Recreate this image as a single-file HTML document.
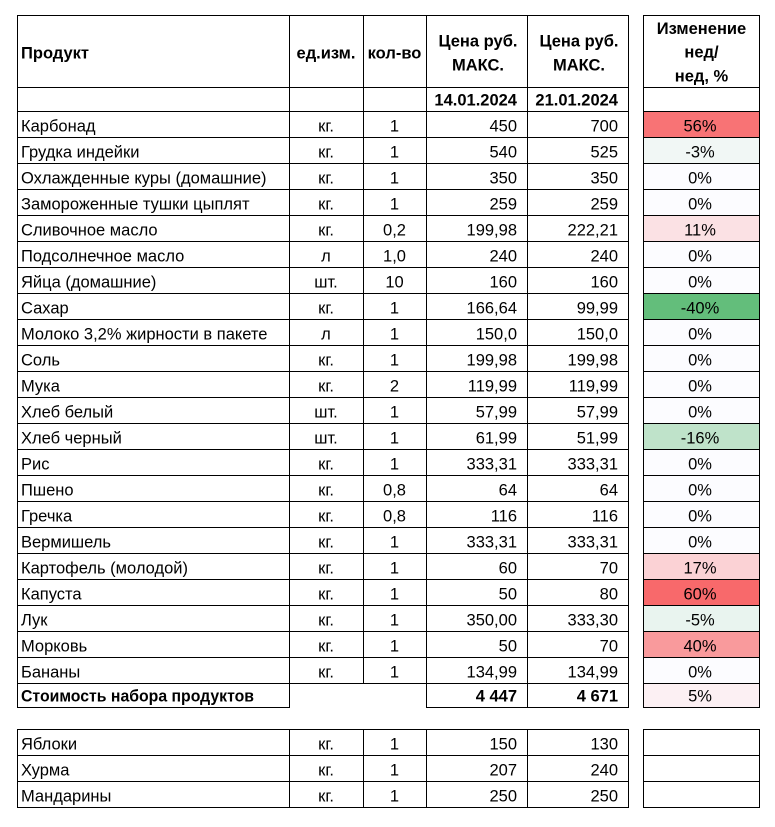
<!DOCTYPE html>
<html><head><meta charset="utf-8"><style>
html,body{margin:0;padding:0;background:#fff;}
svg{display:block;}
text{font-family:"Liberation Sans",Arial,sans-serif;font-size:16.5px;fill:#000;}
.b{font-weight:bold;}
.m{text-anchor:middle;}
.e{text-anchor:end;}
</style></head><body>
<svg width="775" height="827" viewBox="0 0 775 827" xmlns="http://www.w3.org/2000/svg">
<rect width="775" height="827" fill="#fff"/>
<g shape-rendering="crispEdges">
<rect x="644" y="112" width="115" height="25" fill="#F87375"/>
<rect x="644" y="138" width="115" height="25" fill="#F1F7F5"/>
<rect x="644" y="164" width="115" height="25" fill="#FCFCFF"/>
<rect x="644" y="190" width="115" height="25" fill="#FCFCFF"/>
<rect x="644" y="216" width="115" height="25" fill="#FBE1E4"/>
<rect x="644" y="242" width="115" height="25" fill="#FCFCFF"/>
<rect x="644" y="268" width="115" height="25" fill="#FCFCFF"/>
<rect x="644" y="294" width="115" height="25" fill="#63BE7B"/>
<rect x="644" y="320" width="115" height="25" fill="#FCFCFF"/>
<rect x="644" y="346" width="115" height="25" fill="#FCFCFF"/>
<rect x="644" y="372" width="115" height="25" fill="#FCFCFF"/>
<rect x="644" y="398" width="115" height="25" fill="#FCFCFF"/>
<rect x="644" y="424" width="115" height="25" fill="#BFE3CA"/>
<rect x="644" y="450" width="115" height="25" fill="#FCFCFF"/>
<rect x="644" y="476" width="115" height="25" fill="#FCFCFF"/>
<rect x="644" y="502" width="115" height="25" fill="#FCFCFF"/>
<rect x="644" y="528" width="115" height="25" fill="#FCFCFF"/>
<rect x="644" y="554" width="115" height="25" fill="#FBD2D5"/>
<rect x="644" y="580" width="115" height="25" fill="#F8696B"/>
<rect x="644" y="606" width="115" height="25" fill="#E9F4EF"/>
<rect x="644" y="632" width="115" height="25" fill="#F99A9C"/>
<rect x="644" y="658" width="115" height="25" fill="#FCFCFF"/>
<rect x="644" y="684" width="115" height="23" fill="#FCF0F3"/>
</g>
<g stroke="#000" stroke-width="1" shape-rendering="crispEdges" fill="none">
<path d="M17 15.5H629M17 87.5H629M17 111.5H629M17 137.5H629M17 163.5H629M17 189.5H629M17 215.5H629M17 241.5H629M17 267.5H629M17 293.5H629M17 319.5H629M17 345.5H629M17 371.5H629M17 397.5H629M17 423.5H629M17 449.5H629M17 475.5H629M17 501.5H629M17 527.5H629M17 553.5H629M17 579.5H629M17 605.5H629M17 631.5H629M17 657.5H629M17 683.5H629"/>
<path d="M17 707.5H290M426 707.5H629"/>
<path d="M17.5 15V708M289.5 15V708M426.5 15V708M527.5 15V708M628.5 15V708M363.5 15V684"/>
<path d="M643 15.5H760M643 87.5H760M643 111.5H760M643 137.5H760M643 163.5H760M643 189.5H760M643 215.5H760M643 241.5H760M643 267.5H760M643 293.5H760M643 319.5H760M643 345.5H760M643 371.5H760M643 397.5H760M643 423.5H760M643 449.5H760M643 475.5H760M643 501.5H760M643 527.5H760M643 553.5H760M643 579.5H760M643 605.5H760M643 631.5H760M643 657.5H760M643 683.5H760M643 707.5H760"/>
<path d="M643.5 15V708M759.5 15V708"/>
<path d="M17 729.5H629M17 755.5H629M17 781.5H629M17 807.5H629M643 729.5H760M643 755.5H760M643 781.5H760M643 807.5H760"/>
<path d="M17.5 729V808M289.5 729V808M363.5 729V808M426.5 729V808M527.5 729V808M628.5 729V808M643.5 729V808M759.5 729V808"/>
</g>
<text class="b" x="21" y="58.3">Продукт</text>
<text class="b m" x="326" y="58.3">ед.изм.</text>
<text class="b m" x="394.5" y="58.3">кол-во</text>
<text class="b m" x="478" y="46.7">Цена руб.</text>
<text class="b m" x="478" y="70.3">МАКС.</text>
<text class="b m" x="579" y="46.7">Цена руб.</text>
<text class="b m" x="579" y="70.3">МАКС.</text>
<text class="b m" x="701.5" y="34">Изменение</text>
<text class="b m" x="701.5" y="57.7">нед/</text>
<text class="b m" x="701.5" y="81.5">нед, %</text>
<text class="b e" x="517" y="105.5">14.01.2024</text>
<text class="b e" x="618" y="105.5">21.01.2024</text>
<g>
<text x="21" y="131.5">Карбонад</text><text class="m" x="326" y="131.5">кг.</text><text class="m" x="394.5" y="131.5">1</text><text class="e" x="517" y="131.5">450</text><text class="e" x="618" y="131.5">700</text><text class="m" x="700" y="131.5">56%</text>
<text x="21" y="157.5">Грудка индейки</text><text class="m" x="326" y="157.5">кг.</text><text class="m" x="394.5" y="157.5">1</text><text class="e" x="517" y="157.5">540</text><text class="e" x="618" y="157.5">525</text><text class="m" x="700" y="157.5">-3%</text>
<text x="21" y="183.5">Охлажденные куры (домашние)</text><text class="m" x="326" y="183.5">кг.</text><text class="m" x="394.5" y="183.5">1</text><text class="e" x="517" y="183.5">350</text><text class="e" x="618" y="183.5">350</text><text class="m" x="700" y="183.5">0%</text>
<text x="21" y="209.5">Замороженные тушки цыплят</text><text class="m" x="326" y="209.5">кг.</text><text class="m" x="394.5" y="209.5">1</text><text class="e" x="517" y="209.5">259</text><text class="e" x="618" y="209.5">259</text><text class="m" x="700" y="209.5">0%</text>
<text x="21" y="235.5">Сливочное масло</text><text class="m" x="326" y="235.5">кг.</text><text class="m" x="394.5" y="235.5">0,2</text><text class="e" x="517" y="235.5">199,98</text><text class="e" x="618" y="235.5">222,21</text><text class="m" x="700" y="235.5">11%</text>
<text x="21" y="261.5">Подсолнечное масло</text><text class="m" x="326" y="261.5">л</text><text class="m" x="394.5" y="261.5">1,0</text><text class="e" x="517" y="261.5">240</text><text class="e" x="618" y="261.5">240</text><text class="m" x="700" y="261.5">0%</text>
<text x="21" y="287.5">Яйца (домашние)</text><text class="m" x="326" y="287.5">шт.</text><text class="m" x="394.5" y="287.5">10</text><text class="e" x="517" y="287.5">160</text><text class="e" x="618" y="287.5">160</text><text class="m" x="700" y="287.5">0%</text>
<text x="21" y="313.5">Сахар</text><text class="m" x="326" y="313.5">кг.</text><text class="m" x="394.5" y="313.5">1</text><text class="e" x="517" y="313.5">166,64</text><text class="e" x="618" y="313.5">99,99</text><text class="m" x="700" y="313.5">-40%</text>
<text x="21" y="339.5">Молоко 3,2% жирности в пакете</text><text class="m" x="326" y="339.5">л</text><text class="m" x="394.5" y="339.5">1</text><text class="e" x="517" y="339.5">150,0</text><text class="e" x="618" y="339.5">150,0</text><text class="m" x="700" y="339.5">0%</text>
<text x="21" y="365.5">Соль</text><text class="m" x="326" y="365.5">кг.</text><text class="m" x="394.5" y="365.5">1</text><text class="e" x="517" y="365.5">199,98</text><text class="e" x="618" y="365.5">199,98</text><text class="m" x="700" y="365.5">0%</text>
<text x="21" y="391.5">Мука</text><text class="m" x="326" y="391.5">кг.</text><text class="m" x="394.5" y="391.5">2</text><text class="e" x="517" y="391.5">119,99</text><text class="e" x="618" y="391.5">119,99</text><text class="m" x="700" y="391.5">0%</text>
<text x="21" y="417.5">Хлеб белый</text><text class="m" x="326" y="417.5">шт.</text><text class="m" x="394.5" y="417.5">1</text><text class="e" x="517" y="417.5">57,99</text><text class="e" x="618" y="417.5">57,99</text><text class="m" x="700" y="417.5">0%</text>
<text x="21" y="443.5">Хлеб черный</text><text class="m" x="326" y="443.5">шт.</text><text class="m" x="394.5" y="443.5">1</text><text class="e" x="517" y="443.5">61,99</text><text class="e" x="618" y="443.5">51,99</text><text class="m" x="700" y="443.5">-16%</text>
<text x="21" y="469.5">Рис</text><text class="m" x="326" y="469.5">кг.</text><text class="m" x="394.5" y="469.5">1</text><text class="e" x="517" y="469.5">333,31</text><text class="e" x="618" y="469.5">333,31</text><text class="m" x="700" y="469.5">0%</text>
<text x="21" y="495.5">Пшено</text><text class="m" x="326" y="495.5">кг.</text><text class="m" x="394.5" y="495.5">0,8</text><text class="e" x="517" y="495.5">64</text><text class="e" x="618" y="495.5">64</text><text class="m" x="700" y="495.5">0%</text>
<text x="21" y="521.5">Гречка</text><text class="m" x="326" y="521.5">кг.</text><text class="m" x="394.5" y="521.5">0,8</text><text class="e" x="517" y="521.5">116</text><text class="e" x="618" y="521.5">116</text><text class="m" x="700" y="521.5">0%</text>
<text x="21" y="547.5">Вермишель</text><text class="m" x="326" y="547.5">кг.</text><text class="m" x="394.5" y="547.5">1</text><text class="e" x="517" y="547.5">333,31</text><text class="e" x="618" y="547.5">333,31</text><text class="m" x="700" y="547.5">0%</text>
<text x="21" y="573.5">Картофель (молодой)</text><text class="m" x="326" y="573.5">кг.</text><text class="m" x="394.5" y="573.5">1</text><text class="e" x="517" y="573.5">60</text><text class="e" x="618" y="573.5">70</text><text class="m" x="700" y="573.5">17%</text>
<text x="21" y="599.5">Капуста</text><text class="m" x="326" y="599.5">кг.</text><text class="m" x="394.5" y="599.5">1</text><text class="e" x="517" y="599.5">50</text><text class="e" x="618" y="599.5">80</text><text class="m" x="700" y="599.5">60%</text>
<text x="21" y="625.5">Лук</text><text class="m" x="326" y="625.5">кг.</text><text class="m" x="394.5" y="625.5">1</text><text class="e" x="517" y="625.5">350,00</text><text class="e" x="618" y="625.5">333,30</text><text class="m" x="700" y="625.5">-5%</text>
<text x="21" y="651.5">Морковь</text><text class="m" x="326" y="651.5">кг.</text><text class="m" x="394.5" y="651.5">1</text><text class="e" x="517" y="651.5">50</text><text class="e" x="618" y="651.5">70</text><text class="m" x="700" y="651.5">40%</text>
<text x="21" y="677.5">Бананы</text><text class="m" x="326" y="677.5">кг.</text><text class="m" x="394.5" y="677.5">1</text><text class="e" x="517" y="677.5">134,99</text><text class="e" x="618" y="677.5">134,99</text><text class="m" x="700" y="677.5">0%</text>
<text class="b" x="21" y="701.7" textLength="233" lengthAdjust="spacingAndGlyphs">Стоимость набора продуктов</text><text class="b e" x="517" y="701.7">4 447</text><text class="b e" x="618" y="701.7">4 671</text><text class="m" x="700" y="701.7">5%</text>
<text x="21" y="749.5">Яблоки</text><text class="m" x="326" y="749.5">кг.</text><text class="m" x="394.5" y="749.5">1</text><text class="e" x="517" y="749.5">150</text><text class="e" x="618" y="749.5">130</text>
<text x="21" y="775.5">Хурма</text><text class="m" x="326" y="775.5">кг.</text><text class="m" x="394.5" y="775.5">1</text><text class="e" x="517" y="775.5">207</text><text class="e" x="618" y="775.5">240</text>
<text x="21" y="801.5">Мандарины</text><text class="m" x="326" y="801.5">кг.</text><text class="m" x="394.5" y="801.5">1</text><text class="e" x="517" y="801.5">250</text><text class="e" x="618" y="801.5">250</text>
</g>
</svg>
</body></html>
